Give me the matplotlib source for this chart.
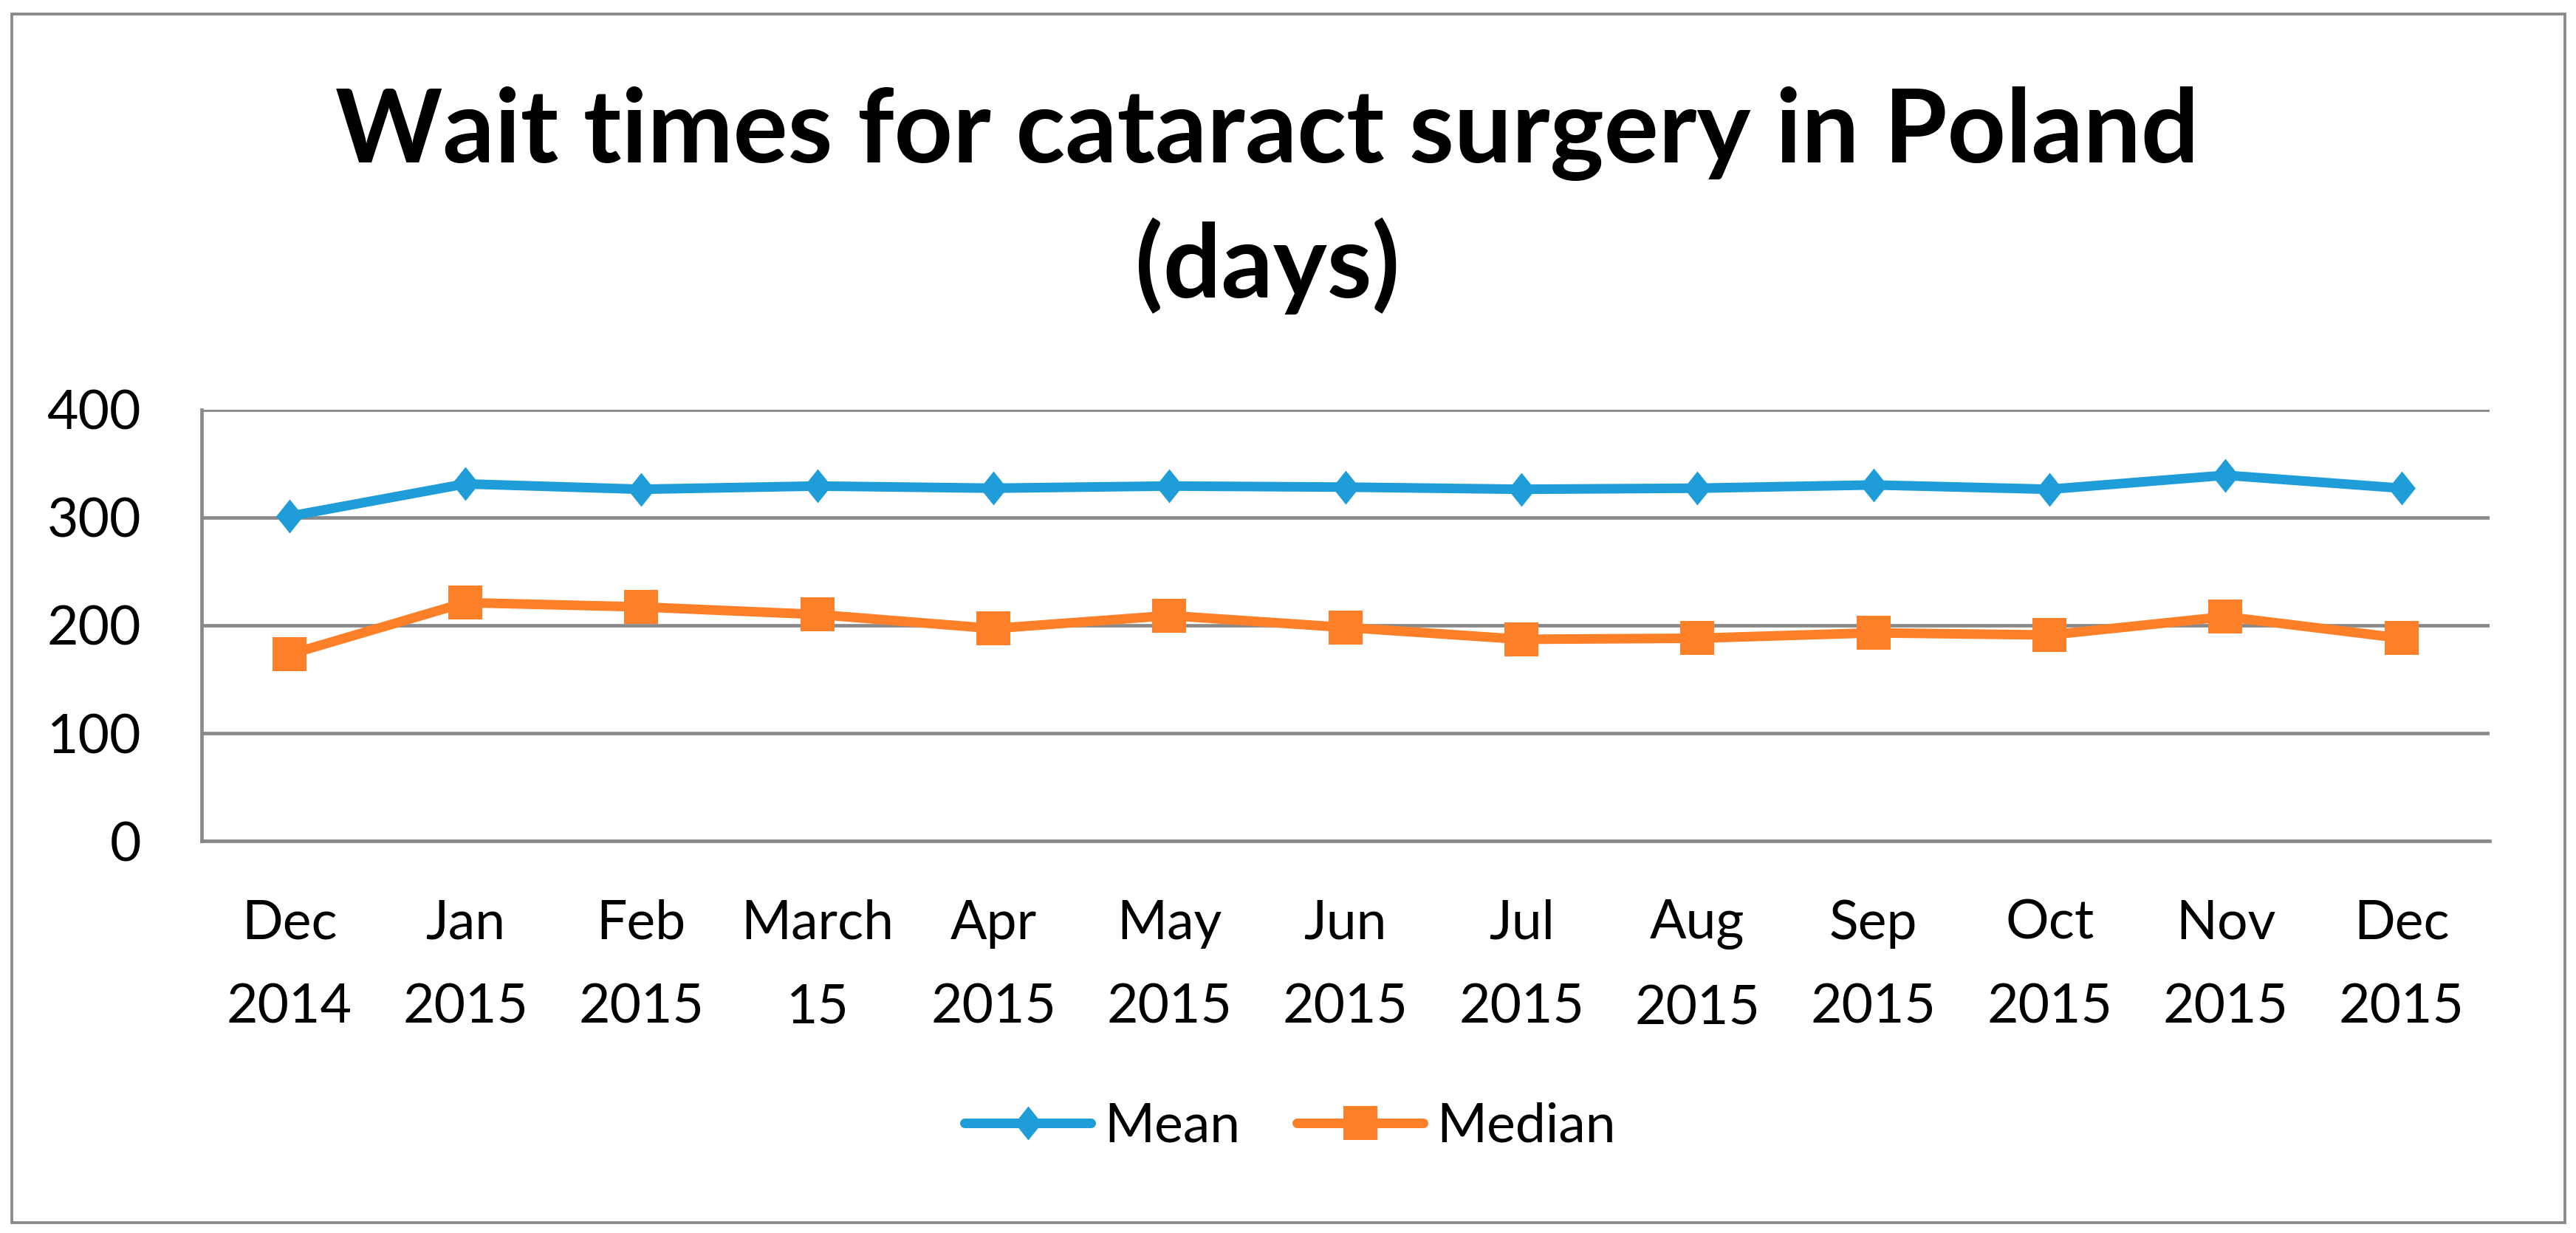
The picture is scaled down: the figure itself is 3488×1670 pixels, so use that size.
import matplotlib
matplotlib.use("Agg")
import matplotlib.pyplot as plt
from matplotlib.path import Path
from matplotlib.patches import Rectangle
from matplotlib.font_manager import FontProperties

# ---------------- data ----------------
categories = ["Dec\n2014", "Jan\n2015", "Feb\n2015", "March\n15", "Apr\n2015",
              "May\n2015", "Jun\n2015", "Jul\n2015", "Aug\n2015", "Sep\n2015",
              "Oct\n2015", "Nov\n2015", "Dec\n2015"]
mean_days = [301, 331, 326, 329, 327, 329, 328, 326, 327, 330, 326, 339, 327]
median_days = [173, 221, 217, 210, 197, 209, 198, 187, 188, 193, 191, 208, 188]
y_ticks = [0, 100, 200, 300, 400]
series_names = ["Mean", "Median"]
title_lines = ["Wait times for cataract surgery in Poland", "(days)"]

# ---------------- style ----------------
W, H, DPI = 3488, 1670, 100
FONT = "Lato"
plt.rcParams["font.family"] = [FONT, "DejaVu Sans"]
BLUE = "#1E9DD8"
ORANGE = "#FD7F27"
GRAY = "#898989"
PX = 72.0 / DPI  # points per pixel

fig = plt.figure(figsize=(W / DPI, H / DPI), dpi=DPI)
fig.patch.set_facecolor("white")
renderer = fig.canvas.get_renderer()


def fit_size(text, target_px, weight="normal", base=50.0):
    t = fig.text(0, 0, text, fontsize=base, fontweight=weight)
    w = t.get_window_extent(renderer).width
    t.remove()
    return base * target_px / w


title_fs = fit_size(title_lines[0], 2521, weight="bold", base=100)
tick_fs = fit_size("2014", 162, base=50) * 1.05

# outer border
fig.add_artist(Rectangle((15.6 / W, 14 / H), (3473 - 15.6) / W, (1651 - 14) / H,
                         transform=fig.transFigure, fill=False,
                         edgecolor=GRAY, linewidth=3.8 * PX))

# title
fig.text(1716 / W, 1 - 220 / H, title_lines[0], ha="center", va="baseline",
         fontsize=title_fs, fontweight="bold", color="black")
fig.text(1716 / W, 1 - 403 / H, title_lines[1], ha="center", va="baseline",
         fontsize=title_fs, fontweight="bold", color="black")

# axes
L, R, T, B = 272.5, 3371, 554.5, 1139.3
ax = fig.add_axes([L / W, 1 - B / H, (R - L) / W, (B - T) / H])
x = list(range(len(categories)))

diamond = Path([(0, 1), (0.8, 0), (0, -1), (-0.8, 0), (0, 1)],
               [Path.MOVETO, Path.LINETO, Path.LINETO, Path.LINETO, Path.CLOSEPOLY])
msize = 46 * PX
lw = 13 * PX

ax.plot(x, mean_days, color=BLUE, linewidth=lw, marker=diamond,
        markersize=msize, markeredgewidth=0, solid_capstyle="round",
        solid_joinstyle="round", label=series_names[0], zorder=3, clip_on=False)
ax.plot(x, median_days, color=ORANGE, linewidth=lw, marker="s",
        markersize=msize, markeredgewidth=0, solid_capstyle="round",
        solid_joinstyle="round", label=series_names[1], zorder=3, clip_on=False)

ax.set_xlim(-0.5, len(categories) - 0.5)
ax.set_ylim(0, 400)
ax.set_yticks(y_ticks)
ax.set_yticklabels([str(v) for v in y_ticks])
ax.set_xticks(x)
ax.set_xticklabels(categories)

ax.yaxis.grid(True, color=GRAY, linewidth=4.7 * PX)
ax.set_axisbelow(True)
for s in ["top", "right"]:
    ax.spines[s].set_visible(False)
for s in ["left", "bottom"]:
    ax.spines[s].set_color(GRAY)
    ax.spines[s].set_linewidth(4.7 * PX)

# tick label geometry
fp = FontProperties(family=[FONT, "DejaVu Sans"], size=tick_fs)
lw_, lh_, ld_ = renderer.get_text_width_height_descent("lp", fp, ismath=False)
asc = lh_ - ld_
x_pad_px = (1272 - B) - asc
linesp = 101.0 / asc

ax.tick_params(axis="both", length=0, labelsize=tick_fs, colors="black")
ax.tick_params(axis="x", pad=x_pad_px * PX)
ax.tick_params(axis="y", pad=(L - 191) * PX)
for lab in ax.get_xticklabels():
    lab.set_linespacing(linesp)

# legend
em_px = tick_fs / PX
leg = fig.legend(loc="center", bbox_to_anchor=(1747 / W, 1 - 1526 / H),
                 ncol=2, frameon=False, fontsize=tick_fs, numpoints=1,
                 handlelength=171 / em_px, handletextpad=18 / em_px,
                 columnspacing=77 / em_px, borderpad=0, borderaxespad=0)

fig.savefig("out.png", dpi=DPI, facecolor="white")
